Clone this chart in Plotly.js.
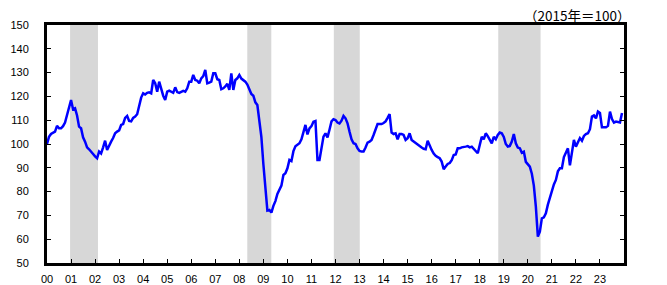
<!DOCTYPE html>
<html>
<head>
<meta charset="utf-8">
<script src="https://cdn.plot.ly/plotly-3.0.1.min.js"></script>
<style>
html,body{margin:0;padding:0;background:#fff;}
#chart{width:667px;height:285px;}
</style>
</head>
<body>
<div id="chart"></div>
<script>
// Monthly index (2015 = 100), Jan 2000 – Dec 2023
const startYear = 2000;
const values = [
  // 2000
  100, 103, 104.2, 104.8, 105.2, 107.6, 106.6, 106.6, 107.5, 109, 112, 115.7,
  // 2001
  118.5, 114.6, 115, 112, 107.3, 106.6, 102.8, 101, 98.6, 97.8, 97, 95.8,
  // 2002
  94.8, 94, 96.8, 96, 98.6, 101.4, 97.5, 99.5, 101, 102.5, 104.5, 105.2,
  // 2003
  105.7, 108, 108.4, 111, 111.8, 109.7, 109.5, 111, 111.5, 112.5, 115.7, 119.5,
  // 2004
  121.3, 120.8, 121.5, 121.7, 121.3, 126.9, 125.5, 122, 126.2, 122.7, 120.3, 118.5,
  // 2005
  122, 122.4, 122, 121.5, 123.8, 121.8, 121.5, 122, 122.3, 122, 123.4, 126.2,
  // 2006
  126.2, 129, 126.9, 126.6, 125.5, 127.6, 128.5, 131.1, 125.5, 125.8, 126.2, 129.7,
  // 2007
  129.7, 127.2, 126.9, 123, 123.4, 124.2, 125.3, 122.7, 129.7, 122.7, 126.9, 127.6,
  // 2008
  129, 127.5, 126.8, 126.2, 125, 123, 121, 120.3, 117.5, 116.4, 110, 103,
  // 2009
  91.5, 80, 72, 72.3, 71.2, 74, 76, 79, 81, 82.5, 87, 87.7,
  // 2010
  89.8, 93.3, 92.8, 97, 99, 99.6, 100.3, 102, 105, 108, 104, 106.6,
  // 2011
  107.5, 109.4, 109.7, 93.3, 93.3, 98.9, 103.1, 104.5, 102.8, 106, 109.5, 110.4,
  // 2012
  110.1, 109, 108.6, 109.8, 111.8, 110.8, 108.7, 105.2, 102, 100.3, 100, 98.2,
  // 2013
  97.1, 96.8, 96.8, 98.5, 100.6, 101, 101.7, 103.8, 106.6, 108.4, 108.4, 108.4,
  // 2014
  108.8, 109.5, 111, 112.6, 104.8, 104.2, 104.5, 102, 104.2, 104.2, 103.8, 101.7,
  // 2015
  102.4, 104.5, 101.7, 101, 100.6, 100, 99.3, 98.5, 98, 97.8, 101.4, 99.1,
  // 2016
  97.5, 96, 95, 94.5, 94, 92.6, 89.4, 90.5, 91.6, 92, 93.2, 95.4,
  // 2017
  95.6, 98.2, 98.2, 98.6, 98.9, 98.9, 99.1, 98.6, 98.9, 98, 96.8, 96.1,
  // 2018
  99.6, 103, 102, 104.5, 103.3, 101.5, 100.3, 103, 102, 103.8, 104.8, 104.5,
  // 2019
  103, 100, 98.9, 99.2, 101, 104.2, 100.3, 98.5, 98.2, 96.3, 96.8, 92.5,
  // 2020
  91.7, 90.5, 87.5, 82.5, 73.7, 61.1, 63.2, 68.8, 69.2, 70.9, 74.5, 77.5,
  // 2021
  80, 83, 84.9, 88.5, 89.8, 89.8, 94.5, 96.3, 98.2, 91, 97.5, 101.7,
  // 2022
  98.9, 100.5, 102.5, 101.4, 103.4, 104.2, 104.5, 106.2, 111.5, 112, 110.8, 113.6,
  // 2023
  113, 107, 107, 107, 107.6, 113.6, 110.5, 109, 109.4, 109.2, 109, 113
];

// Recession periods (shaded), in fractional years
const recessionStart = [2000.96, 2008.33, 2011.93, 2018.77];
const recessionEnd   = [2002.12, 2009.33, 2013.01, 2020.53];

// Axis tick labels
const tickYears = [2000,2001,2002,2003,2004,2005,2006,2007,2008,2009,2010,2011,
                   2012,2013,2014,2015,2016,2017,2018,2019,2020,2021,2022,2023,2024];
const tickLabels = ['00','01','02','03','04','05','06','07','08','09','10','11',
                    '12','13','14','15','16','17','18','19','20','21','22','23',''];
const noteText = '（2015年＝100）';

const xs = values.map((v, i) => startYear + i / 12);

const shapes = recessionStart.map((s, i) => ({
  type: 'rect', xref: 'x', yref: 'paper',
  x0: s, x1: recessionEnd[i], y0: 0, y1: 1,
  fillcolor: '#d7d7d7', line: {width: 0}, layer: 'below'
}));

const trace = {
  x: xs, y: values, type: 'scatter', mode: 'lines',
  line: {color: '#0000ff', width: 2.5},
  hoverinfo: 'skip'
};

const font = {family: '"Liberation Sans", Arial, sans-serif', size: 11, color: '#000'};

const layout = {
  width: 667, height: 285,
  margin: {l: 47, r: 43, t: 25, b: 22, pad: 0},
  paper_bgcolor: '#fff', plot_bgcolor: 'rgba(0,0,0,0)',
  showlegend: false,
  font: font,
  xaxis: {
    range: [2000, 2024], tickmode: 'array', tickvals: tickYears, ticktext: tickLabels,
    ticks: 'inside', ticklen: 4, tickwidth: 1, tickcolor: '#000',
    showline: true, linecolor: '#000', linewidth: 3, mirror: true,
    showgrid: false, zeroline: false, tickfont: font, ticklabelstandoff: 4,
    fixedrange: true
  },
  yaxis: {
    range: [50, 150], tickmode: 'linear', tick0: 50, dtick: 10,
    ticks: 'inside', ticklen: 4, tickwidth: 1, tickcolor: '#000',
    showline: true, linecolor: '#000', linewidth: 3, mirror: 'allticks',
    showgrid: false, zeroline: false, tickfont: font, ticklabelstandoff: 13,
    fixedrange: true
  },
  shapes: shapes,
  annotations: [{
    text: noteText, xref: 'paper', yref: 'paper', x: 1, y: 1,
    xanchor: 'right', yanchor: 'middle', xshift: 8, yshift: 10, showarrow: false,
    font: {family: '"Noto Sans CJK JP", sans-serif', size: 13.5, color: '#000'}
  }]
};

Plotly.newPlot('chart', [trace], layout, {displayModeBar: false, staticPlot: true});
</script>
</body>
</html>
